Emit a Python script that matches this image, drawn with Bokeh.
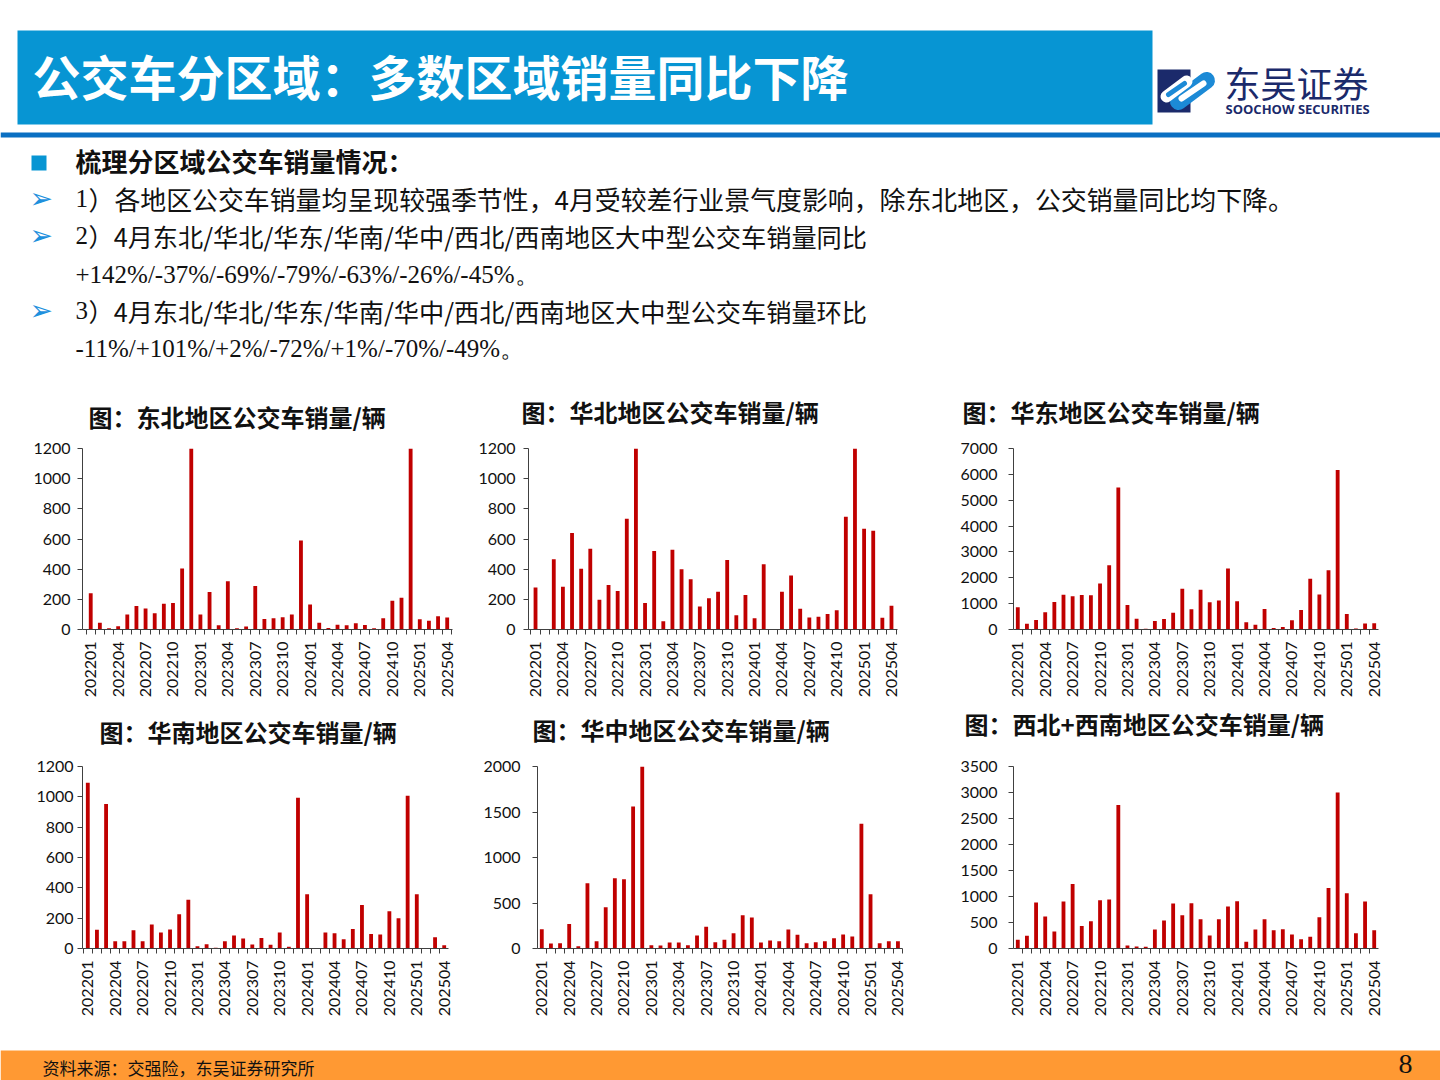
import math
from bokeh.plotting import figure
from bokeh.layouts import column, row
from bokeh.models import Range1d, FixedTicker, ColumnDataSource
from bokeh.embed import file_html
from bokeh.resources import INLINE
from bokeh.core.properties import value

# ---------------- data ----------------
months = [f"{y}{m:02d}" for y in (2022, 2023, 2024) for m in range(1, 13)] + ["202501", "202502", "202503", "202504"]
label_every = 3

ne_sales = [240, 45, 8, 22, 100, 155, 140, 107, 170, 175,
            405, 1450, 100, 248, 28, 320, 8, 20, 288, 70,
            75, 82, 100, 590, 165, 45, 10, 32, 28, 42,
            30, 8, 75, 190, 210, 1500, 68, 58, 88, 80]
north_sales = [278, 2, 465, 283, 640, 403, 535, 197, 295, 255,
               735, 1350, 175, 520, 55, 528, 400, 333, 153, 208,
               250, 460, 95, 228, 75, 432, 2, 250, 358, 137,
               80, 85, 103, 128, 748, 1600, 668, 655, 78, 157]
east_sales = [860, 220, 370, 665, 1060, 1340, 1290, 1330, 1320, 1780,
              2480, 5490, 950, 420, 25, 330, 410, 650, 1575, 780,
              1540, 1050, 1125, 2355, 1090, 280, 180, 790, 60, 100,
              360, 750, 1960, 1355, 2290, 6170, 600, 40, 235, 240]
south_sales = [1093, 123, 952, 48, 48, 120, 48, 158, 105, 125,
               226, 322, 15, 28, 5, 48, 85, 66, 26, 70,
               24, 105, 12, 994, 357, 0, 105, 100, 61, 128,
               287, 96, 92, 245, 200, 1007, 357, 0, 75, 21]
central_sales = [212, 55, 58, 270, 26, 717, 80, 453, 771, 760,
                 1561, 2000, 37, 33, 66, 66, 37, 143, 238, 70,
                 95, 168, 366, 340, 66, 88, 80, 208, 150, 58,
                 70, 80, 113, 154, 132, 1371, 596, 58, 79, 80]
west_sales = [166, 243, 883, 614, 326, 902, 1241, 435, 525, 928,
              941, 2758, 58, 38, 32, 365, 537, 864, 640, 870,
              563, 250, 563, 806, 909, 128, 365, 563, 352, 371,
              269, 179, 224, 601, 1165, 3001, 1062, 294, 902, 352]

chart_titles = ["图：东北地区公交车销量/辆", "图：华北地区公交车销量/辆", "图：华东地区公交车销量/辆",
                "图：华南地区公交车销量/辆", "图：华中地区公交车销量/辆", "图：西北+西南地区公交车销量/辆"]
y_max = [1200, 1200, 7000, 1200, 2000, 3500]
y_step = [200, 200, 1000, 200, 500, 500]

heading = "公交车分区域：多数区域销量同比下降"
bullet_title = "梳理分区域公交车销量情况："
item_nums = ["1", "2", "3"]
item_texts = ["）各地区公交车销量均呈现较强季节性，4月受较差行业景气度影响，除东北地区，公交销量同比均下降。",
              "）4月东北/华北/华东/华南/华中/西北/西南地区大中型公交车销量同比",
              "）4月东北/华北/华东/华南/华中/西北/西南地区大中型公交车销量环比"]
item_conts = ["+142%/-37%/-69%/-79%/-63%/-26%/-45%。", "-11%/+101%/+2%/-72%/+1%/-70%/-49%。"]
source_note = "资料来源：交强险，东吴证券研究所"
page_no = "8"
logo_cn = "东吴证券"
logo_en = "SOOCHOW SECURITIES"

CJK = "Noto Sans CJK SC"
BAR = "#C00000"
NAVY = "#1B2A6B"
LOGO_BLUE = "#1C8AD6"


def blank(w, h, y0, y1):
    f = figure(width=w, height=h, x_range=Range1d(0, w), y_range=Range1d(y1, y0),
               output_backend="svg", toolbar_location=None, x_axis_location=None, y_axis_location=None,
               min_border=0)
    f.outline_line_color = None
    f.grid.visible = False
    f.background_fill_color = "white"
    f.border_fill_color = "white"
    return f


def make_chart(vals, ymax, ystep, w, h, bl, br, bt, bb, xr, ystand):
    p = figure(width=w, height=h, x_range=Range1d(*xr), y_range=Range1d(0, ymax),
               output_backend="svg", toolbar_location=None,
               min_border_left=bl, min_border_right=br, min_border_top=bt, min_border_bottom=bb)
    p.background_fill_color = "white"
    p.border_fill_color = "white"
    p.outline_line_color = None
    p.grid.visible = False
    src = ColumnDataSource(dict(x=list(range(len(months))), v=vals, m=months))
    p.vbar(x="x", top="v", bottom=0, width=0.42, source=src, fill_color=BAR, line_color=None)

    xa = p.xaxis[0]
    ticks = list(range(0, len(months), label_every))
    xa.ticker = FixedTicker(ticks=ticks, minor_ticks=[i - 0.5 for i in range(len(months) + 1)])
    xa.major_label_overrides = {i: months[i] for i in ticks}
    xa.major_label_orientation = math.pi / 2
    xa.major_tick_out = 0
    xa.major_tick_in = 0
    xa.minor_tick_out = 5
    xa.minor_tick_in = 0
    xa.major_label_standoff = 7
    xa.axis_line_color = "#404040"
    xa.minor_tick_line_color = "#404040"
    xa.major_label_text_font = "Lato"
    xa.major_label_text_font_size = "16px"
    xa.major_label_text_color = "#111111"

    ya = p.yaxis[0]
    ya.ticker = FixedTicker(ticks=list(range(0, ymax + 1, ystep)))
    ya.major_tick_out = 5
    ya.major_tick_in = 0
    ya.minor_tick_out = 0
    ya.minor_tick_in = 0
    ya.major_label_standoff = ystand
    ya.axis_line_color = "#404040"
    ya.major_tick_line_color = "#404040"
    ya.major_label_text_font = "Lato"
    ya.major_label_text_font_size = "16px"
    ya.major_label_text_color = "#111111"
    return p


# ---------------- header (page y 0..378) ----------------
hdr = blank(1440, 378, 0, 378)
hdr.quad(left=[17], right=[1152], top=[30], bottom=[124], fill_color="#0795D3", line_color=None)
hdr.quad(left=[0], right=[1440], top=[132], bottom=[137], fill_color="#0A6FC2", line_color=None)
hdr.text(x=[32], y=[74], text=[heading], text_font=value(CJK), text_font_style="bold",
         text_font_size="48px", text_color="white", text_baseline="middle", text_align="left")

# logo: navy block with an interlocking blue/white "S" mark
hdr.quad(left=[1157], right=[1190], top=[69], bottom=[112], fill_color=NAVY, line_color=None)
hdr.segment(x0=[1178], y0=[101], x1=[1206], y1=[80], line_width=17, line_color=LOGO_BLUE, line_cap="round")
hdr.segment(x0=[1181], y0=[98], x1=[1203], y1=[83], line_width=6, line_color="white", line_cap="round")
hdr.segment(x0=[1166], y0=[96], x1=[1186], y1=[81], line_width=12, line_color="white", line_cap="round")
hdr.segment(x0=[1168], y0=[94], x1=[1184], y1=[83], line_width=5, line_color=LOGO_BLUE, line_cap="round")
hdr.text(x=[1224], y=[81], text=[logo_cn], text_font=value(CJK), text_font_size="36px",
         text_color=NAVY, text_baseline="middle", text_align="left")
hdr.text(x=[1225], y=[108], text=[logo_en], text_font=value("Open Sans"), text_font_style="bold",
         text_font_size="13px", text_color=NAVY, text_baseline="middle", text_align="left")

# bullets
hdr.quad(left=[31], right=[46], top=[155], bottom=[170], fill_color="#0795D3", line_color=None)
hdr.text(x=[75], y=[160], text=[bullet_title], text_font=value(CJK), text_font_style="bold",
         text_font_size="26px", text_color="#111111", text_baseline="middle", text_align="left")
item_y = [198, 235, 310]
cont_y = [274, 348]
item_sizes = ["25.9px", "25.2px", "25.2px"]
hdr.text(x=[29] * 3, y=item_y, text=["➢"] * 3, text_font=value("DejaVu Sans"), text_font_size="28px",
         text_color="#1E90DD", text_baseline="middle", text_align="left")
hdr.text(x=[75] * 3, y=item_y, text=item_nums, text_font=value("Liberation Serif"), text_font_size="25px",
         text_color="#111111", text_baseline="middle", text_align="left")
for yy, tt, ss in zip(item_y, item_texts, item_sizes):
    hdr.text(x=[88], y=[yy], text=[tt], text_font=value(CJK), text_font_size=ss,
             text_color="#111111", text_baseline="middle", text_align="left")
hdr.text(x=[75] * 2, y=cont_y, text=item_conts, text_font=value("Liberation Serif"), text_font_size="25px",
         text_color="#111111", text_baseline="middle", text_align="left")

# ---------------- chart title strips ----------------
t1 = blank(1440, 60, 378, 438)
t1.text(x=[88, 521, 962], y=[416, 411, 411], text=chart_titles[:3], text_font=value(CJK),
        text_font_style="bold", text_font_size="24px", text_color="#111111",
        text_baseline="middle", text_align="left")
t2 = blank(1440, 56, 700, 756)
t2.text(x=[99, 532, 964], y=[731, 729, 723], text=chart_titles[3:], text_font=value(CJK),
        text_font_style="bold", text_font_size="24px", text_color="#111111",
        text_baseline="middle", text_align="left")

# ---------------- charts ----------------
# row 1 spans page y 438..700 (frame 448..631); row 2 spans 756..1030 (frame 766..948)
c1 = make_chart(ne_sales, y_max[0], y_step[0], 470, 262, 82, 18, 10, 69, (-0.9, 39.58), 7)
c2 = make_chart(north_sales, y_max[1], y_step[1], 480, 262, 58, 53, 10, 69, (-0.77, 39.66), 8)
c3 = make_chart(east_sales, y_max[2], y_step[2], 490, 262, 63, 62, 10, 69, (-0.47, 39.47), 11)
c4 = make_chart(south_sales, y_max[3], y_step[3], 470, 274, 82, 22, 10, 82, (-0.58, 39.47), 4)
c5 = make_chart(central_sales, y_max[4], y_step[4], 480, 274, 67, 48, 10, 82, (-0.47, 39.5), 12)
c6 = make_chart(west_sales, y_max[5], y_step[5], 490, 274, 63, 62, 10, 82, (-0.47, 39.47), 11)

# ---------------- footer (page y 1030..1080) ----------------
ftr = blank(1440, 50, 1030, 1080)
ftr.quad(left=[0], right=[1440], top=[1050], bottom=[1080], fill_color="#FF9933", line_color=None)
ftr.text(x=[42], y=[1067], text=[source_note], text_font=value(CJK), text_font_size="17px",
         text_color="#111111", text_baseline="middle", text_align="left")
ftr.text(x=[1405], y=[1063], text=[page_no], text_font=value("Liberation Serif"), text_font_size="28px",
         text_color="#111111", text_baseline="middle", text_align="center")

layout = column(hdr, t1, row(c1, c2, c3), t2, row(c4, c5, c6), ftr)
open("out.html", "w").write(file_html(layout, INLINE))
